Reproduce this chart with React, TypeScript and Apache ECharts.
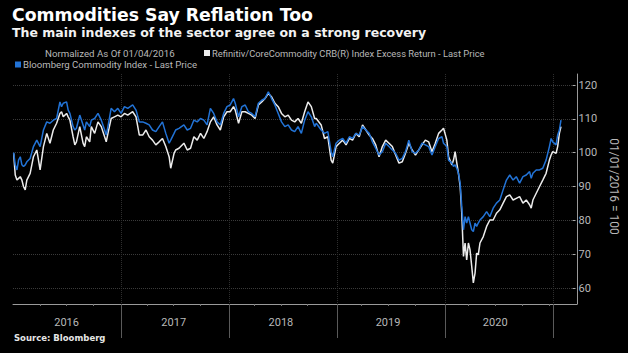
import React, { useEffect, useRef } from "react";
import * as echarts from "echarts";

// Dates as fractional years (2016.0 = 1 Jan 2016)
const dates = [
  2016.006, 2016.021, 2016.037, 2016.052, 2016.068, 2016.083, 2016.098, 2016.114, 2016.129, 2016.160,
  2016.191, 2016.222, 2016.253, 2016.284, 2016.315, 2016.345, 2016.376, 2016.407, 2016.438, 2016.453,
  2016.469, 2016.500, 2016.515, 2016.531, 2016.561, 2016.577, 2016.592, 2016.623, 2016.654, 2016.669,
  2016.685, 2016.716, 2016.731, 2016.762, 2016.793, 2016.824, 2016.855, 2016.870, 2016.886, 2016.916,
  2016.947, 2016.978, 2017.009, 2017.040, 2017.071, 2017.117, 2017.148, 2017.179, 2017.210, 2017.241,
  2017.271, 2017.302, 2017.333, 2017.364, 2017.395, 2017.426, 2017.457, 2017.472, 2017.503, 2017.518,
  2017.549, 2017.595, 2017.626, 2017.657, 2017.688, 2017.719, 2017.750, 2017.781, 2017.811, 2017.842,
  2017.873, 2017.904, 2017.935, 2017.966, 2017.997, 2018.027, 2018.058, 2018.074, 2018.105, 2018.136,
  2018.167, 2018.197, 2018.228, 2018.259, 2018.290, 2018.321, 2018.352, 2018.383, 2018.413, 2018.444,
  2018.475, 2018.506, 2018.537, 2018.568, 2018.599, 2018.629, 2018.660, 2018.691, 2018.722, 2018.753,
  2018.784, 2018.815,
  2018.830, 2018.876, 2018.907, 2018.938, 2018.969, 2018.984, 2019.015, 2019.046, 2019.077, 2019.108,
  2019.139, 2019.169, 2019.200, 2019.231, 2019.262, 2019.293, 2019.324, 2019.354, 2019.385, 2019.416,
  2019.447, 2019.478, 2019.509, 2019.540, 2019.571, 2019.602, 2019.633, 2019.663, 2019.694, 2019.725,
  2019.756, 2019.787, 2019.817, 2019.848, 2019.879, 2019.910, 2019.941, 2019.972, 2020.003, 2020.018,
  2020.049, 2020.065, 2020.096, 2020.111, 2020.126, 2020.142, 2020.157, 2020.173, 2020.188, 2020.204,
  2020.219, 2020.234, 2020.250, 2020.265, 2020.281, 2020.296, 2020.312, 2020.327, 2020.342, 2020.358,
  2020.389, 2020.420, 2020.450, 2020.481, 2020.512, 2020.543, 2020.574, 2020.605, 2020.636, 2020.667,
  2020.697, 2020.728, 2020.759, 2020.790, 2020.821, 2020.836, 2020.852, 2020.883, 2020.914, 2020.944,
  2020.975, 2021.006, 2021.022, 2021.037, 2021.068, 2021.083, 2021.099, 2021.114,
];

// Bloomberg Commodity Index (blue)
const bcom = [
  100.0, 96.4, 94.9, 97.8, 98.8, 96.4, 95.9, 96.4, 97.3, 98.3,
  101.8, 103.7, 101.8, 106.7, 109.1, 108.7, 109.6, 110.1, 115.0, 113.6,
  114.6, 115.0, 112.6, 111.6, 107.7, 106.7, 107.2, 111.1, 108.2, 106.7,
  109.1, 107.7, 109.6, 110.1, 111.6, 109.6, 106.7, 105.2, 107.7, 113.1,
  112.1, 113.1, 111.6, 113.6, 113.1, 114.1, 112.6, 109.1, 109.1, 108.7,
  108.2, 106.7, 106.2, 107.7, 109.1, 105.7, 102.8, 103.7, 105.7, 106.7,
  107.2, 108.2, 106.7, 107.2, 109.6, 109.1, 110.1, 109.6, 108.2, 113.1,
  111.6, 109.1, 108.2, 111.6, 113.6, 114.1, 116.0, 114.6, 110.6, 113.6,
  114.1, 112.1, 111.6, 110.6, 114.6, 115.5, 116.0, 118.0, 116.0, 114.1,
  111.6, 109.1, 107.7, 108.2, 106.7, 106.2, 107.7, 105.7, 109.6, 112.1,
  110.6, 107.7,
  108.7, 106.7, 105.7, 106.2, 100.3, 98.8, 102.8, 103.7, 104.2, 102.8,
  104.7, 104.2, 105.7, 105.2, 107.7, 106.7, 105.7, 103.2, 101.3, 99.3,
  100.3, 102.8, 101.8, 100.8, 99.8, 97.8, 98.3, 100.3, 103.7, 100.3,
  99.8, 100.8, 102.8, 102.3, 101.8, 99.3, 101.8, 104.2, 104.7, 102.8,
  101.8, 97.8, 96.9, 95.9, 96.4, 95.4, 93.9, 91.0, 84.1, 77.2,
  81.1, 79.2, 81.1, 79.2, 77.2, 76.7, 79.2, 78.2, 79.2, 80.1,
  81.1, 82.6, 81.1, 83.6, 85.1, 86.0, 89.0, 91.9, 93.4, 91.9,
  92.9, 91.0, 92.9, 93.4, 94.4, 92.4, 93.9, 94.9, 94.9, 95.4,
  97.8, 101.8, 104.2, 103.2, 102.3, 105.2, 106.7, 109.6,
];

// Refinitiv/CoreCommodity CRB Index (white)
const crb = [
  99.8, 93.4, 91.9, 92.4, 92.9, 91.9, 90.0, 89.0, 91.9, 93.9,
  98.8, 100.8, 94.9, 101.8, 105.7, 102.8, 106.7, 108.7, 111.6, 112.1,
  110.6, 111.6, 110.6, 109.6, 104.7, 102.3, 103.2, 107.7, 102.8, 101.8,
  104.7, 103.2, 107.7, 105.7, 109.1, 107.7, 104.7, 103.2, 105.7, 110.1,
  110.6, 111.1, 110.6, 111.6, 111.1, 112.1, 110.6, 105.2, 105.2, 106.7,
  104.7, 103.7, 102.3, 103.2, 104.2, 101.8, 98.8, 95.4, 99.8, 100.8,
  101.3, 102.8, 100.8, 101.3, 104.7, 103.7, 105.7, 104.2, 106.2, 109.1,
  110.6, 108.2, 106.7, 110.6, 112.1, 112.1, 113.6, 112.6, 108.7, 112.1,
  112.1, 111.6, 111.1, 110.1, 114.1, 115.0, 116.0, 117.5, 116.5, 114.6,
  113.6, 111.6, 110.6, 111.1, 109.6, 109.1, 110.1, 108.7, 112.1, 115.0,
  113.6, 110.1,
  110.1, 108.2, 104.2, 104.7, 97.8, 96.9, 101.8, 102.8, 103.7, 102.3,
  104.2, 103.7, 105.7, 104.7, 108.2, 106.7, 105.2, 104.2, 102.3, 98.8,
  101.8, 103.7, 102.8, 101.8, 99.3, 96.9, 97.3, 99.8, 102.8, 100.8,
  99.3, 100.8, 102.3, 103.7, 103.2, 100.3, 102.8, 105.7, 106.7, 107.2,
  103.7, 98.8, 96.4, 97.8, 100.3, 96.9, 93.9, 90.0, 82.1, 69.3,
  73.3, 68.3, 73.3, 71.3, 66.4, 61.5, 64.4, 70.3, 69.8, 73.3,
  75.2, 78.2, 80.1, 80.1, 82.1, 83.1, 85.1, 87.0, 87.5, 86.0,
  86.5, 87.0, 85.1, 86.0, 84.6, 83.6, 86.0, 88.0, 90.0, 91.9,
  93.9, 97.8, 99.3, 100.3, 99.8, 101.8, 105.7, 107.7,
];

const yearBoundaries = [2017, 2018, 2019, 2020, 2021];
const yearLabelPositions = [2016.5, 2017.5, 2018.5, 2019.5, 2020.5];
const quarterTicks = [
  2016.25, 2016.5, 2016.75, 2017.25, 2017.5, 2017.75, 2018.25, 2018.5, 2018.75,
  2019.25, 2019.5, 2019.75, 2020.25, 2020.5, 2020.75, 2021.0,
];

const CRB_NAME = "Refinitiv/CoreCommodity CRB(R) Index Excess Return - Last Price";
const BCOM_NAME = "Bloomberg Commodity Index - Last Price";

const FONT = "Roboto, 'Liberation Sans', sans-serif";
const HEAD_FONT = "'DejaVu Sans', Verdana, sans-serif";

export default function App() {
  const ref = useRef<HTMLDivElement>(null);
  useEffect(() => {
    if (!ref.current) return;
    const chart = echarts.init(ref.current, null, { renderer: "svg" });
    const X_MIN = 2016;
    const X_MAX = 2021.222;
    chart.setOption({
      animation: false,
      backgroundColor: "#000",
      textStyle: { fontFamily: FONT },
      title: [
        {
          text: "Commodities Say Reflation Too",
          left: 12, top: 6, padding: 0,
          textStyle: { color: "#fff", fontSize: 17.3, fontWeight: "bold", fontFamily: HEAD_FONT },
        },
        {
          text: "The main indexes of the sector agree on a strong recovery",
          left: 12, top: 26, padding: 0,
          textStyle: { color: "#f2f2f2", fontSize: 12.5, fontWeight: "bold", fontFamily: HEAD_FONT },
        },
        {
          text: "Normalized As Of 01/04/2016",
          left: 45, top: 48, padding: 0,
          textStyle: { color: "#b8b8b8", fontSize: 9.7, fontWeight: "normal", fontFamily: FONT },
        },
        {
          text: "Source: Bloomberg",
          left: 14, top: 333, padding: 0,
          textStyle: { color: "#e6e6e6", fontSize: 8.5, fontWeight: "bold", fontFamily: HEAD_FONT },
        },
      ],
      legend: [
        {
          data: [CRB_NAME], left: 204, top: 48.5, padding: 0,
          icon: "rect", itemWidth: 6, itemHeight: 6, itemGap: 4,
          textStyle: { color: "#b8b8b8", fontSize: 9.4, padding: [0, 0, 0, -3], fontFamily: FONT },
        },
        {
          data: [BCOM_NAME], left: 15, top: 59.5, padding: 0,
          icon: "rect", itemWidth: 6, itemHeight: 6, itemGap: 4,
          textStyle: { color: "#b8b8b8", fontSize: 9.6, padding: [0, 0, 0, -3], fontFamily: FONT },
        },
      ],
      grid: [
        { left: 13, right: 51, top: 85, bottom: 65 },
        { left: 13, right: 51, top: 74, bottom: 49 },
      ],
      xAxis: [
        {
          type: "value", gridIndex: 0, min: X_MIN, max: X_MAX, offset: 16,
          axisLine: { show: false },
          axisTick: { show: true, customValues: quarterTicks, length: 2, lineStyle: { color: "#777" } },
          axisLabel: {
            customValues: yearLabelPositions, margin: 13, color: "#b8b8b8", fontSize: 11,
            formatter: (v: number) => String(Math.floor(v)),
          },
          splitLine: { show: false },
        },
        {
          type: "value", gridIndex: 1, min: X_MIN, max: X_MAX,
          axisLine: { show: true, lineStyle: { color: "#9a9a9a", width: 1 } },
          axisTick: { show: true, customValues: yearBoundaries, length: 34, lineStyle: { color: "#5a5a5a" } },
          axisLabel: { show: false },
          splitLine: { show: true, lineStyle: { color: "#2e2e2e", type: "dotted" } },
        },
      ],
      yAxis: [
        {
          type: "value", gridIndex: 0, position: "right", min: 60, max: 120, interval: 10,
          axisLine: { show: false },
          axisTick: { show: true, length: 3, lineStyle: { color: "#aaa" } },
          axisLabel: { margin: 6, color: "#b8b8b8", fontSize: 11 },
          splitLine: { show: true, lineStyle: { color: "#3a3a3a", type: "dotted" } },
          name: "01/01/2016 = 100",
          nameLocation: "middle", nameRotate: -90, nameGap: 31,
          nameTextStyle: { color: "#b8b8b8", fontSize: 12, fontFamily: FONT },
        },
        {
          type: "value", gridIndex: 1, position: "right", min: 0, max: 1,
          axisLine: { show: true, lineStyle: { color: "#9a9a9a", width: 1 } },
          axisTick: { show: false }, axisLabel: { show: false }, splitLine: { show: false },
        },
      ],
      series: [
        {
          name: CRB_NAME, type: "line", xAxisIndex: 0, yAxisIndex: 0,
          data: dates.map((d, i) => [d, crb[i]]),
          showSymbol: false, color: "#ececec",
          lineStyle: { width: 1.5, color: "#ececec" },
        },
        {
          name: BCOM_NAME, type: "line", xAxisIndex: 0, yAxisIndex: 0,
          data: dates.map((d, i) => [d, bcom[i]]),
          showSymbol: false, color: "#2273d6",
          lineStyle: { width: 1.5, color: "#2273d6" },
        },
      ],
    });
    return () => chart.dispose();
  }, []);
  return (
    <div
      ref={ref}
      style={{ position: "fixed", left: 0, top: 0, width: 628, height: 353, background: "#000" }}
    />
  );
}
